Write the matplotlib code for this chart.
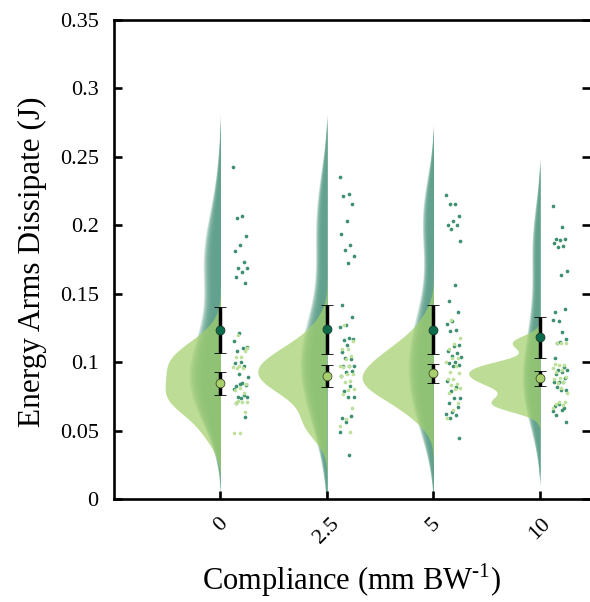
import numpy as np
import matplotlib
matplotlib.use("Agg")
import matplotlib.pyplot as plt

# ---------------- data ----------------
categories = ["0", "2.5", "5", "10"]

dark_0 = [0.2428, 0.2068, 0.2051, 0.1924, 0.1856, 0.1812, 0.1732, 0.1686, 0.1690, 0.1661,
          0.1620, 0.1578, 0.1211, 0.1157, 0.1101, 0.1081, 0.1108, 0.0999, 0.0991, 0.0974,
          0.0913, 0.0889, 0.0845, 0.0828, 0.0833, 0.0838, 0.0804, 0.0760, 0.0743, 0.0743,
          0.0736, 0.0699, 0.0601]
dark_25 = [0.2350, 0.2229, 0.2214, 0.2158, 0.2031, 0.1936, 0.1856, 0.1817, 0.1773, 0.1727,
           0.1415, 0.1330, 0.1269, 0.1255, 0.1179, 0.1162, 0.1171, 0.1127, 0.1072, 0.1021,
           0.1030, 0.0972, 0.0972, 0.0972, 0.0933, 0.0926, 0.0897, 0.0826, 0.0791, 0.0745,
           0.0748, 0.0594, 0.0609, 0.0560, 0.0487, 0.0322]
dark_5 = [0.2221, 0.2155, 0.2153, 0.2068, 0.2034, 0.2002, 0.2004, 0.1971, 0.1885, 0.1564,
          0.1447, 0.1366, 0.1301, 0.1281, 0.1237, 0.1228, 0.1125, 0.1116, 0.1084, 0.1065,
          0.1045, 0.1035, 0.1003, 0.0991, 0.0977, 0.0972, 0.0862, 0.0821, 0.0787, 0.0736,
          0.0740, 0.0704, 0.0670, 0.0636, 0.0619, 0.0612, 0.0594, 0.0448]
dark_10 = [0.2143, 0.1985, 0.1898, 0.1898, 0.1893, 0.1873, 0.1846, 0.1839, 0.1666, 0.1637,
           0.1369, 0.1386, 0.1298, 0.1306, 0.1223, 0.1142, 0.1167, 0.1150, 0.1028, 0.0962,
           0.0943, 0.0943, 0.0930, 0.0913, 0.0886, 0.0857, 0.0853, 0.0857, 0.0816, 0.0796,
           0.0796, 0.0682, 0.0663, 0.0692, 0.0643, 0.0648, 0.0614, 0.0565]

light_0 = [0.1196, 0.1101, 0.1035, 0.1035, 0.1081, 0.0974, 0.0962, 0.0955, 0.0955, 0.0838,
           0.0809, 0.0796, 0.0772, 0.0716, 0.0711, 0.0707, 0.0699, 0.0638, 0.0484, 0.0480]
light_25 = [0.1274, 0.1157, 0.1096, 0.1098, 0.1043, 0.1021, 0.0970, 0.0974, 0.0967, 0.0911,
            0.0913, 0.0897, 0.0864, 0.0853, 0.0806, 0.0794, 0.0765, 0.0663, 0.0582, 0.0533,
            0.0492]
light_5 = [0.1308, 0.1179, 0.1135, 0.1094, 0.1032, 0.1028, 0.1001, 0.0972, 0.0928, 0.0918,
           0.0877, 0.0875, 0.0838, 0.0833, 0.0809, 0.0802, 0.0772, 0.0701, 0.0648, 0.0594]
light_10 = [0.1142, 0.1142, 0.1138, 0.0986, 0.0979, 0.0979, 0.0955, 0.0943, 0.0930, 0.0894,
            0.0886, 0.0875, 0.0857, 0.0845, 0.0772, 0.0809, 0.0692, 0.0707, 0.0707, 0.0663,
            0.0687]

dark_mean = [0.1235, 0.1240, 0.1237, 0.1181]
dark_sem = [0.0165, 0.0180, 0.0177, 0.0149]
light_mean = [0.0845, 0.0899, 0.0918, 0.0882]
light_sem = [0.0083, 0.0078, 0.0068, 0.0056]

yticks = [0, 0.05, 0.1, 0.15, 0.2, 0.25, 0.3, 0.35]
ytick_labels = ["0", "0.05", "0.1", "0.15", "0.2", "0.25", "0.3", "0.35"]

# ---------------- style ----------------
plt.rcParams["font.family"] = ["Liberation Serif", "DejaVu Serif"]
plt.rcParams["mathtext.fontset"] = "custom"
plt.rcParams["mathtext.rm"] = "Liberation Serif"

DARK_VIOLIN = "#5fa18c"
LIGHT_VIOLIN = "#a3d06b"
DARK_PT = "#3e8f70"
LIGHT_PT = "#bde09a"
DARK_MEAN = "#0b6b4b"
LIGHT_MEAN = "#a9cf6c"

dark_bw = [0.028, 0.028, 0.028, 0.026]
light_bw = [0.012, 0.011, 0.011, 0.0055]
dark_maxw = [0.21, 0.18, 0.17, 0.12]
light_maxw = [0.52, 0.65, 0.67, 0.67]

fig = plt.figure(figsize=(5.90, 6.02), dpi=100)
ax = fig.add_axes([114 / 590, 1 - 499 / 602, 1 - 114 / 590, (499 - 20) / 602])

grid = np.linspace(0.0, 0.35, 700)


def kde(vals, bw):
    v = np.asarray(vals)[:, None]
    d = np.exp(-0.5 * ((grid[None, :] - v) / bw) ** 2).sum(axis=0)
    return d / d.max()


dark_sets = [dark_0, dark_25, dark_5, dark_10]
light_sets = [light_0, light_25, light_5, light_10]
xs = np.arange(len(categories))
px = 1 / 106.5  # data units per pixel (x)

# dark (blurred) half violins
factors = np.linspace(0.7, 1.45, 14)
for i, vals in enumerate(dark_sets):
    w = kde(vals, dark_bw[i]) * dark_maxw[i]
    for f in factors:
        wk = np.clip(w * f - 0.8 * px, 0, None)
        ax.fill_betweenx(grid, xs[i] - wk, xs[i], color=DARK_VIOLIN, alpha=0.23,
                         linewidth=0, zorder=1)

# light half violins
for i, vals in enumerate(light_sets):
    w = kde(vals, light_bw[i]) * light_maxw[i]
    ax.fill_betweenx(grid, xs[i] - w, xs[i], color=LIGHT_VIOLIN, alpha=0.71,
                     linewidth=0, zorder=2)

# jittered points (deterministic spread)
for i in range(len(categories)):
    for vals, col in ((dark_sets[i], DARK_PT), (light_sets[i], LIGHT_PT)):
        n = len(vals)
        jit = 0.12 + 0.14 * ((np.arange(n) * 0.6180339 + 0.3 * (col == LIGHT_PT)) % 1.0)
        ax.scatter(xs[i] + jit, vals, s=7, color=col, linewidths=0, zorder=3)

# error bars with means
ax.errorbar(xs, dark_mean, yerr=dark_sem, fmt="o", color="black", ecolor="black",
            elinewidth=2.5, capsize=4.3, capthick=2.5, markersize=6.4,
            markerfacecolor=DARK_MEAN, markeredgecolor="#1a3a2a", markeredgewidth=0.6, zorder=5)
ax.errorbar(xs, light_mean, yerr=light_sem, fmt="o", color="black", ecolor="black",
            elinewidth=2.5, capsize=4.3, capthick=2.5, markersize=6.4,
            markerfacecolor=LIGHT_MEAN, markeredgecolor="#3a4a2a", markeredgewidth=0.6, zorder=5)

ax.set_xlim(-1, 3.47)
ax.set_ylim(0, 0.35)
ax.set_yticks(yticks)
ax.set_yticklabels(ytick_labels)
ax.set_xticks(xs)
ax.set_xticklabels(categories, rotation=45, ha="center")

for s in ("left", "bottom", "top"):
    ax.spines[s].set_linewidth(1.9)
ax.spines["right"].set_visible(False)

ax.tick_params(axis="y", which="both", direction="in", length=6, width=1.9,
               labelsize=16, pad=11, left=True, right=True)
ax.tick_params(axis="x", which="both", direction="in", length=6, width=1.9,
               labelsize=16, pad=11, top=False)

fig.text(32 / 590, 1 - 262 / 602, "Energy Arms Dissipate (J)", rotation=90,
         ha="center", va="center", fontsize=22.5)
fig.text(352 / 590, 1 - 580 / 602, r"Compliance (mm BW$^{\text{-1}}$)",
         ha="center", va="center", fontsize=22)

fig.savefig("out.png", dpi=100)
